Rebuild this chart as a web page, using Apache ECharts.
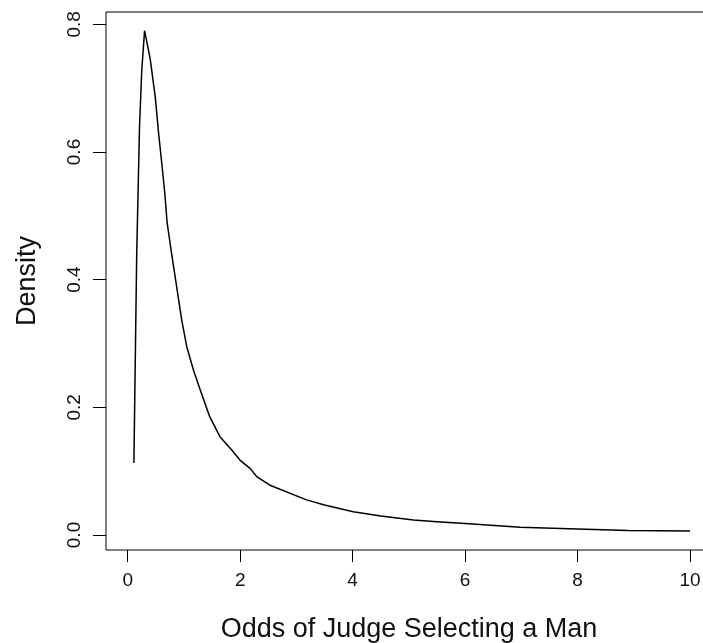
<!DOCTYPE html>
<html>
<head>
<meta charset="utf-8">
<script src="https://cdn.jsdelivr.net/npm/echarts@6/dist/echarts.min.js"></script>
<style>
html,body{margin:0;padding:0;background:#fff;}
#chart{width:703px;height:643px;}
</style>
</head>
<body>
<div id="chart"></div>
<script>
// Odds values (x) and density values (y)
var oddsX = [0.11, 0.16, 0.21, 0.25, 0.30, 0.40, 0.49, 0.55, 0.60, 0.66, 0.70, 0.78, 0.87, 0.96, 1.05, 1.17, 1.29, 1.46, 1.64, 1.85, 2.00, 2.18, 2.30, 2.53, 3.18, 3.50, 4.01, 4.50, 5.08, 5.50, 6.00, 6.98, 7.99, 8.90, 10.0];
var densityY = [0.113, 0.44, 0.64, 0.728, 0.790, 0.746, 0.686, 0.629, 0.587, 0.535, 0.49, 0.441, 0.389, 0.337, 0.295, 0.258, 0.227, 0.185, 0.154, 0.133, 0.117, 0.104, 0.091, 0.078, 0.055, 0.047, 0.0365, 0.0297, 0.0235, 0.0209, 0.018, 0.012, 0.0094, 0.0070, 0.0063];
var xTicks = [0, 2, 4, 6, 8, 10];
var yTicks = [0, 0.2, 0.4, 0.6, 0.8];
var xTitle = 'Odds of Judge Selecting a Man';
var yTitle = 'Density';

var pts = oddsX.map(function (x, i) { return [x, densityY[i]]; });
var FONT = '"Liberation Sans", Arial, Helvetica, sans-serif';
var chart = echarts.init(document.getElementById('chart'), null, {renderer: 'canvas'});
chart.setOption({
  animation: false,
  backgroundColor: '#ffffff',
  grid: {
    left: 106, top: 12, width: 606, height: 538,
    show: true, borderColor: '#000', borderWidth: 1, backgroundColor: 'transparent',
    containLabel: false,
    outerBoundsMode: 'none'
  },
  xAxis: {
    type: 'value', min: -0.386, max: 10.39,
    name: xTitle, nameLocation: 'middle', nameGap: 66,
    nameTextStyle: {fontFamily: FONT, fontSize: 27, color: '#111'},
    axisLine: {show: false, onZero: false},
    splitLine: {show: false},
    axisTick: {show: true, inside: false, length: 12, customValues: xTicks, lineStyle: {color: '#000', width: 1}},
    axisLabel: {show: true, customValues: xTicks, margin: 21, fontFamily: FONT, fontSize: 19, color: '#111',
      formatter: function (v) { return String(v); }}
  },
  yAxis: {
    type: 'value', min: -0.0235, max: 0.8193,
    name: yTitle, nameLocation: 'middle', nameGap: 65,
    nameTextStyle: {fontFamily: FONT, fontSize: 27, color: '#111'},
    axisLine: {show: false, onZero: false},
    splitLine: {show: false},
    axisTick: {show: true, inside: false, length: 13, customValues: yTicks, lineStyle: {color: '#000', width: 1}},
    axisLabel: {show: true, customValues: yTicks, rotate: 90, margin: 22, fontFamily: FONT, fontSize: 19, color: '#111',
      formatter: function (v) { return Number(v).toFixed(1); }}
  },
  series: [{
    type: 'line',
    data: pts,
    showSymbol: false,
    smooth: false,
    clip: true,
    lineStyle: {color: '#000', width: 1.5},
    itemStyle: {color: '#000'}
  }]
});
</script>
</body>
</html>
